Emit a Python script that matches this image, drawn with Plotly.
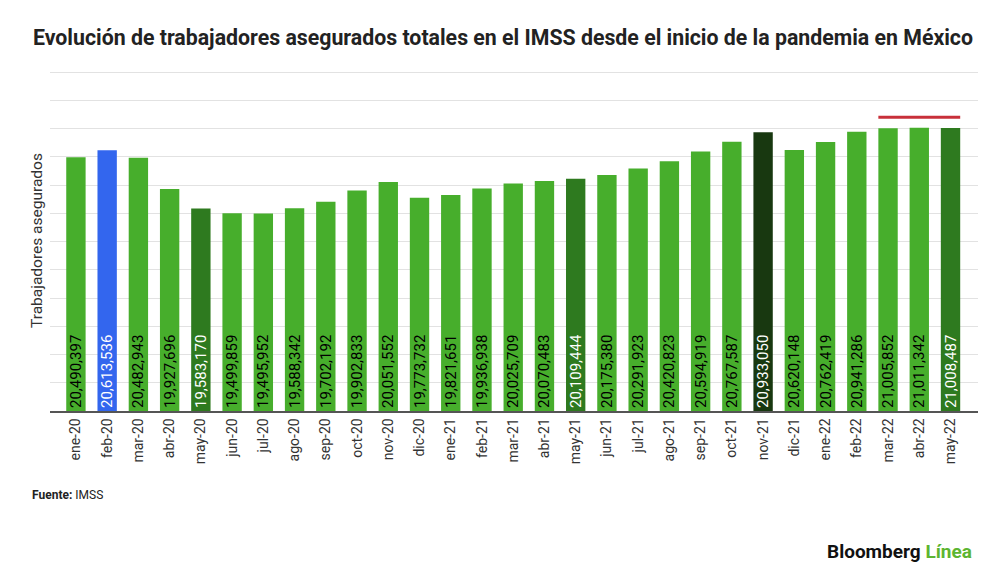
import plotly.graph_objects as go

months = ["ene-20","feb-20","mar-20","abr-20","may-20","jun-20","jul-20","ago-20","sep-20","oct-20",
          "nov-20","dic-20","ene-21","feb-21","mar-21","abr-21","may-21","jun-21","jul-21","ago-21",
          "sep-21","oct-21","nov-21","dic-21","ene-22","feb-22","mar-22","abr-22","may-22"]
workers = [20490397, 20613536, 20482943, 19927696, 19583170, 19499859, 19495952, 19588342, 19702192,
           19902833, 20051552, 19773732, 19821651, 19936938, 20025709, 20070483, 20109444, 20175380,
           20291923, 20420823, 20594919, 20767587, 20933050, 20620148, 20762419, 20941286, 21005852,
           21011342, 21008487]

axis_min = 16000000
axis_max = 22000000
axis_step = 500000

GREEN = "#47ae2c"
DARK = "#2e7a1f"
DARKEST = "#183810"
BLUE = "#3366ee"
special = {"feb-20": BLUE, "may-20": DARK, "may-21": DARK, "nov-21": DARKEST, "may-22": DARK}
colors = [special.get(m, GREEN) for m in months]
text_colors = ["white" if m in special else "black" for m in months]
labels = [f"{v:,}" for v in workers]

ref_level = 21200000
ref_start, ref_end = "mar-22", "may-22"

fig = go.Figure(go.Bar(
    x=months, y=[v - axis_min for v in workers], base=axis_min,
    marker=dict(color=colors, line=dict(width=0)),
    text=labels, textposition="inside", insidetextanchor="start", textangle=-90,
    textfont=dict(family="Roboto", size=15, color=text_colors),
    hovertext=labels, hoverinfo="x+text",
))

bw = 0.62
i0 = months.index(ref_start)
i1 = months.index(ref_end)
fig.add_shape(type="line", xref="x", yref="y", x0=i0 - bw / 2, x1=i1 + bw / 2,
              y0=ref_level, y1=ref_level, line=dict(color="#c8303a", width=3))

fig.update_layout(
    width=1000, height=575,
    margin=dict(l=50, r=22, t=71, b=164, autoexpand=False),
    paper_bgcolor="white", plot_bgcolor="white",
    bargap=1 - bw,
    uniformtext=dict(mode="show", minsize=15),
    font=dict(family="Roboto", color="#333333"),
    showlegend=False,
    xaxis=dict(type="category", tickangle=-90, tickfont=dict(size=14, color="#333333"),
               range=[-0.83, len(months) - 1 + 0.88], showline=True, linecolor="#555555", linewidth=1.5,
               ticks="", showgrid=False, automargin=False),
    yaxis=dict(range=[axis_min, axis_max + 18000], dtick=axis_step, tick0=axis_min, showticklabels=False,
               gridcolor="#e2e2e2", gridwidth=1, zeroline=False, showline=False, ticks="", automargin=False),
    annotations=[
        dict(text="<b>Evolución de trabajadores asegurados totales en el IMSS desde el inicio de la pandemia en México</b>",
             xref="paper", yref="paper", x=-0.02, xshift=0, y=1, yshift=34, xanchor="left", yanchor="middle",
             showarrow=False, font=dict(family="Roboto", size=21.3, color="#222222")),
        dict(text="Trabajadores asegurados", xref="paper", yref="paper", x=0, y=0.5, xshift=-13,
             textangle=-90, showarrow=False, font=dict(size=15.5, color="#333333"),
             xanchor="center", yanchor="middle"),
        dict(text="<b>Fuente:</b> IMSS", xref="paper", yref="paper", x=-0.022, y=0, yshift=-84,
             showarrow=False, xanchor="left", yanchor="middle", font=dict(size=12, color="#222222")),
        dict(text="<b>Bloomberg</b> <b><span style='color:#5cb531'>Línea</span></b>", xref="paper",
             yref="paper", x=1.0, xshift=-4, y=0, yshift=-140, showarrow=False, xanchor="right",
             yanchor="middle", font=dict(size=19, color="#111111")),
    ],
)

fig.write_html("out.html", config={"displayModeBar": False},
               post_script="document.body.style.margin='0';document.body.style.padding='0';")
